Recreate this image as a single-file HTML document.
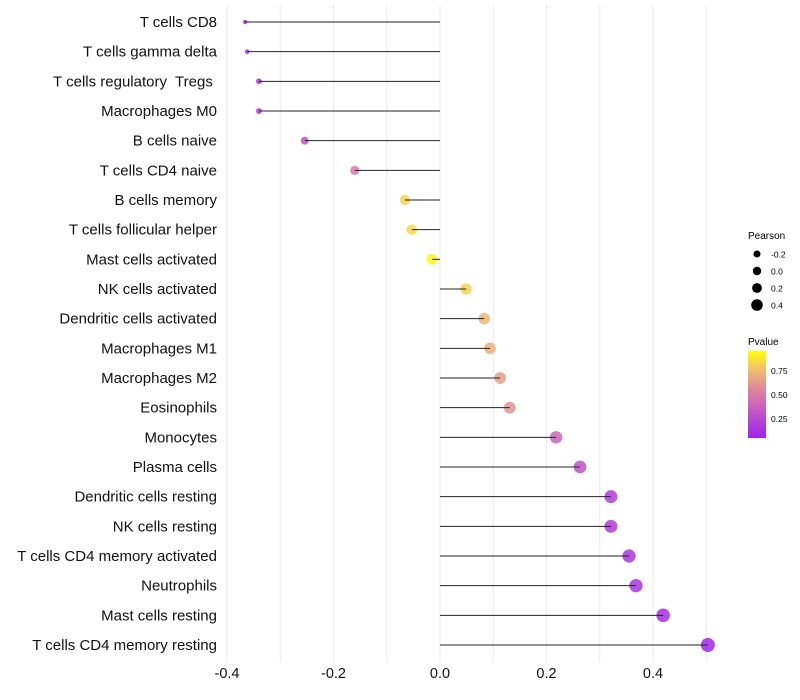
<!DOCTYPE html>
<html><head><meta charset="utf-8"><style>
body{margin:0;background:#fff;font-family:"Liberation Sans",sans-serif;}
svg{display:block}
text{white-space:pre}
</style></head><body>
<svg id="chart" width="800" height="700">
<g id="grid"></g>
<g id="points"></g>
<g id="marks"></g>
<g id="labels"></g>
<g id="xaxis"></g>
<g id="legend">
<defs><linearGradient id="pg" x1="0" y1="1" x2="0" y2="0">
<stop offset="0" stop-color="#a020f0"/><stop offset="0.5" stop-color="#d87aa8"/><stop offset="0.8" stop-color="#f2c16c"/><stop offset="1" stop-color="#ffff00"/></linearGradient></defs>
<text x="748" y="239" font-size="10">Pearson</text>
<circle cx="757" cy="254" r="3.5"/><text x="771" y="257.5" font-size="8.5">-0.2</text>
<circle cx="757" cy="271" r="4.2"/><text x="771" y="274.5" font-size="8.5">0.0</text>
<circle cx="757" cy="288" r="4.9"/><text x="771" y="291.5" font-size="8.5">0.2</text>
<circle cx="757" cy="305" r="5.8"/><text x="771" y="308.5" font-size="8.5">0.4</text>
<text x="748" y="345" font-size="10">Pvalue</text>
<rect x="748" y="351" width="18" height="87" fill="url(#pg)"/>
<text x="771" y="374" font-size="8.5">0.75</text>
<text x="771" y="398" font-size="8.5">0.50</text>
<text x="771" y="422" font-size="8.5">0.25</text>
</g>
</svg>
<script>
const categories=["T cells CD8","T cells gamma delta","T cells regulatory  Tregs ","Macrophages M0","B cells naive","T cells CD4 naive","B cells memory","T cells follicular helper","Mast cells activated","NK cells activated","Dendritic cells activated","Macrophages M1","Macrophages M2","Eosinophils","Monocytes","Plasma cells","Dendritic cells resting","NK cells resting","T cells CD4 memory activated","Neutrophils","Mast cells resting","T cells CD4 memory resting"];
const pearson=[-0.366,-0.362,-0.340,-0.340,-0.254,-0.160,-0.066,-0.053,-0.015,0.049,0.083,0.094,0.113,0.131,0.218,0.263,0.321,0.321,0.355,0.368,0.419,0.503];
const pvalue=[0.05,0.05,0.1,0.1,0.28,0.5,0.85,0.88,0.98,0.85,0.75,0.72,0.65,0.6,0.38,0.28,0.15,0.15,0.1,0.1,0.06,0.03];
const xTicks=[-0.4,-0.2,0.0,0.2,0.4];
const xTickLabels=["-0.4","-0.2","0.0","0.2","0.4"];
const NS="http://www.w3.org/2000/svg";
const xs=v=>440+v*532.5;
const ys=i=>22+i*(623/21);
function mk(t,a,p){const e=document.createElementNS(NS,t);for(const k in a)e.setAttribute(k,a[k]);p.appendChild(e);return e;}
function lerp(a,b,t){return a.map((v,i)=>Math.round(v+(b[i]-v)*t));}
function col(p){const s=[[0,[160,32,240]],[0.5,[216,122,168]],[0.8,[242,193,108]],[1,[255,255,0]]];
for(let i=1;i<s.length;i++){if(p<=s[i][0]){const t=(p-s[i-1][0])/(s[i][0]-s[i-1][0]);const c=lerp(s[i-1][1],s[i][1],t);return `rgb(${c})`;}}return "rgb(255,255,0)";}
const grid=document.getElementById('grid'),marks=document.getElementById('marks'),points=document.getElementById('points'),labels=document.getElementById('labels'),xaxis=document.getElementById('xaxis');
for(let v=-0.4;v<=0.51;v+=0.1){const l=mk('line',{x1:xs(v),x2:xs(v),y1:5,y2:662,stroke:'#ebebeb','stroke-width':1},grid);

}
categories.forEach((c,i)=>{
const y=ys(i);
const r=1.5+5.5*Math.pow(Math.max(0.001,(pearson[i]+0.37)/0.873),0.4);
const ci=mk('circle',{cx:xs(pearson[i]),cy:y,r:r,fill:col(pvalue[i]),'fill-opacity':0.85},points);


const ln=mk('line',{x1:xs(0),x2:xs(pearson[i]),y1:y,y2:y,stroke:'#222','stroke-width':1},marks);


const t=mk('text',{x:217,y:y+5,'text-anchor':'end','font-size':15,fill:'#111'},labels);
t.textContent=c;


});
xTicks.forEach((v,i)=>{
const t=mk('text',{x:xs(v),y:678,'text-anchor':'middle','font-size':14.5,fill:'#111'},xaxis);
t.textContent=xTickLabels[i];


});
</script>
</body></html>
